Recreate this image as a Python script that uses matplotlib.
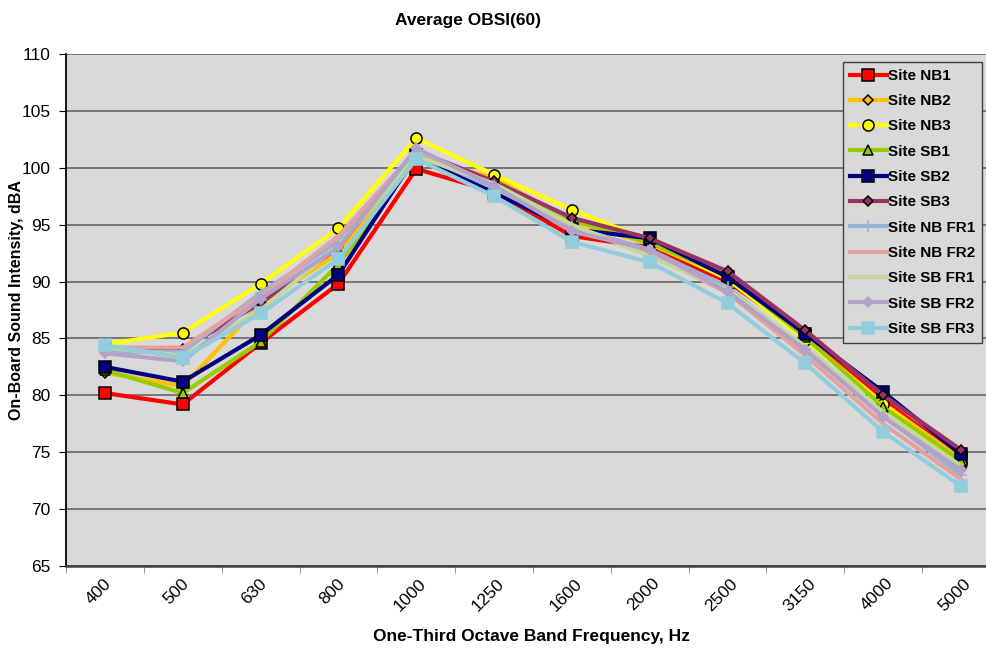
import matplotlib
matplotlib.use("Agg")
import matplotlib.pyplot as plt
import numpy as np

plt.rcParams['font.family'] = ['Liberation Sans', 'DejaVu Sans']

freqs = ['400', '500', '630', '800', '1000', '1250', '1600', '2000',
         '2500', '3150', '4000', '5000']

nb1 = [80.2, 79.2, 84.6, 89.8, 99.9, 97.9, 94.0, 93.0, 90.0, 85.2, 79.6, 74.5]
nb2 = [82.0, 80.8, 88.0, 92.5, 101.0, 99.1, 95.3, 93.3, 90.3, 85.0, 79.3, 74.4]
nb3 = [84.5, 85.5, 89.8, 94.7, 102.6, 99.4, 96.3, 93.6, 90.2, 84.9, 79.2, 74.0]
sb1 = [82.2, 80.2, 84.7, 91.5, 100.8, 98.8, 95.4, 93.4, 90.5, 85.1, 79.0, 74.2]
sb2 = [82.5, 81.2, 85.3, 90.6, 101.1, 97.8, 94.6, 93.8, 90.4, 85.4, 80.3, 74.8]
sb3 = [84.0, 84.1, 88.1, 93.0, 101.5, 98.8, 95.6, 93.8, 90.9, 85.7, 80.0, 75.2]
nbfr1 = [83.8, 83.8, 89.0, 93.5, 101.3, 98.2, 94.8, 92.8, 89.5, 84.0, 78.2, 73.0]
nbfr2 = [84.2, 84.2, 88.7, 94.0, 101.5, 98.5, 94.9, 92.5, 89.0, 83.5, 77.5, 72.6]
sbfr1 = [84.2, 83.5, 87.5, 93.2, 101.0, 98.6, 95.0, 92.2, 89.3, 84.3, 78.5, 73.8]
sbfr2 = [83.7, 83.0, 88.5, 93.0, 101.7, 98.4, 94.4, 92.8, 89.1, 84.0, 78.1, 73.4]
sbfr3 = [84.4, 83.3, 87.2, 92.0, 100.8, 97.5, 93.5, 91.7, 88.1, 82.8, 76.8, 72.0]

# label, values, line colour, marker, marker face, marker edge, marker size
series = [
    ('Site NB1', nb1, '#FF0000', 's', '#FF0000', 'black', 8),
    ('Site NB2', nb2, '#FFC000', 'D', '#FFC000', 'black', 5),
    ('Site NB3', nb3, '#FFFF00', 'o', '#FFFF00', 'black', 8),
    ('Site SB1', sb1, '#99CC00', '^', '#99CC00', 'black', 7.5),
    ('Site SB2', sb2, '#000080', 's', '#000080', 'black', 8),
    ('Site SB3', sb3, '#993366', 'D', '#993366', 'black', 5.5),
    ('Site NB FR1', nbfr1, '#95B3D7', '+', '#95B3D7', '#95B3D7', 8),
    ('Site NB FR2', nbfr2, '#E6A0A0', 'None', 'none', 'none', 0),
    ('Site SB FR1', sbfr1, '#C3D69B', 'None', 'none', 'none', 0),
    ('Site SB FR2', sbfr2, '#B3A2C7', 'D', '#B3A2C7', '#B3A2C7', 5.5),
    ('Site SB FR3', sbfr3, '#93CDDD', 's', '#93CDDD', '#93CDDD', 9),
]

fig = plt.figure(figsize=(9.86, 6.48), dpi=100)
ax = fig.add_axes([66 / 986, 82 / 648, 934 / 986, 512 / 648])
ax.set_facecolor('#D9D9D9')

x = np.arange(len(freqs))
for label, vals, col, mk, mfc, mec, ms in series:
    ax.plot(x, vals, color=col, lw=3.0, marker=mk, markerfacecolor=mfc,
            markeredgecolor=mec, markersize=ms, markeredgewidth=1.1,
            label=label, solid_joinstyle='miter')

ax.set_xlim(-0.5, len(freqs) - 0.5)
ax.set_ylim(65, 110)
ax.set_yticks(np.arange(65, 111, 5))
ax.yaxis.grid(True, color='#6E6E6E', lw=1.3)
ax.set_axisbelow(True)

ax.set_xticks(x)
ax.set_xticklabels(freqs, rotation=45, fontsize=12.5, ha='center')
ax.set_xticks(np.arange(-0.5, len(freqs), 1), minor=True)
ax.tick_params(axis='x', which='major', length=0, pad=7)
ax.tick_params(axis='x', which='minor', length=5, color='#7F7F7F', direction='out')
ax.tick_params(axis='y', labelsize=12.5, length=5, direction='out', pad=6)
# nudge the rotated frequency labels a little to the left
shift = matplotlib.transforms.ScaledTranslation(-6 / 100, 0, fig.dpi_scale_trans)
for lbl in ax.get_xticklabels():
    lbl.set_transform(lbl.get_transform() + shift)

for side in ['top', 'right']:
    ax.spines[side].set_visible(False)
ax.spines['left'].set_linewidth(1.3)
ax.spines['bottom'].set_linewidth(1.8)
ax.spines['bottom'].set_color('#404040')

fig.text(17 / 986, 1 - 300 / 648, 'On-Board Sound Intensity, dBA', rotation=90,
         ha='center', va='center', fontsize=11.5, fontweight='bold')
fig.text(531 / 986, 1 - 637 / 648, 'One-Third Octave Band Frequency, Hz',
         ha='center', va='center', fontsize=12.5, fontweight='bold')
fig.text(468 / 986, 1 - 20 / 648, 'Average OBSI(60)', ha='center', va='center',
         fontsize=12.5, fontweight='bold')

leg = ax.legend(loc='upper left', bbox_to_anchor=(843 / 986, 1 - 62 / 648),
                bbox_transform=fig.transFigure, prop={'weight': 'bold', 'size': 11},
                handlelength=2.4, handletextpad=0.1, labelspacing=0.74,
                borderpad=0.45, fancybox=False, framealpha=1,
                facecolor='#D9D9D9', edgecolor='#404040', borderaxespad=0)

fig.savefig('out.png', dpi=100)
